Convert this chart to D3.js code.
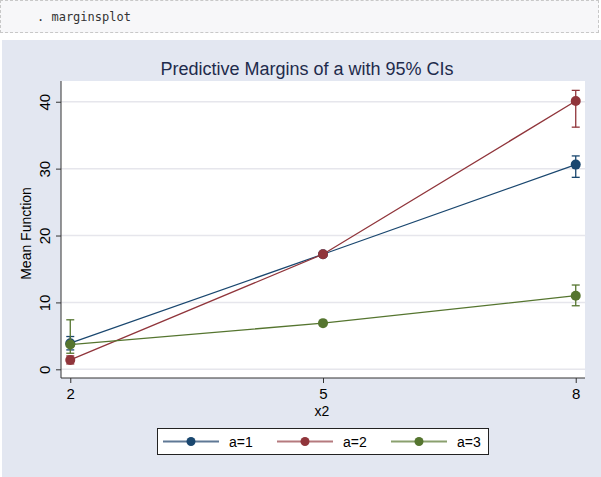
<!DOCTYPE html>
<meta charset="utf-8">
<style>
body { margin: 0; background: #fff; }
.cmd {
  position: absolute; left: 0; top: 0; width: 599px; height: 33px;
  background: #f7f7f9; border: 1px dashed #c8c8c8;
  font: 12px "DejaVu Sans Mono", monospace; color: #333;
  line-height: 33px; box-sizing: border-box; padding-left: 36px;
}
svg { position: absolute; left: 0; top: 40px; }
.tick text { font: 15px "Liberation Sans", Arial, sans-serif; fill: #000; }
</style>
<div class="cmd">. marginsplot</div>
<svg width="601" height="437"></svg>
<script src="https://d3js.org/d3.v7.min.js"></script>
<script>

var xvals = [2, 5, 8];
var groups = ["a=1", "a=2", "a=3"];
var margin1 = [3.9, 17.2, 30.6],
    lo1 = [2.9, 17.0, 28.7],
    hi1 = [4.9, 17.4, 31.9];
var margin2 = [1.4, 17.2, 40.1],
    lo2 = [0.8, 16.9, 36.2],
    hi2 = [2.0, 17.5, 41.7];
var margin3 = [3.7, 6.9, 11.0],
    lo3 = [2.4, 6.7, 9.5],
    hi3 = [7.4, 7.1, 12.6];
var colors = ["#1a476f", "#90353b", "#55752f"];
var legendColors = ["#5f7895", "#b57a7e", "#8aa06e"];
var yticks = [0, 10, 20, 30, 40];

var series = [
  {name: groups[0], m: margin1, lo: lo1, hi: hi1},
  {name: groups[1], m: margin2, lo: lo2, hi: hi2},
  {name: groups[2], m: margin3, lo: lo3, hi: hi3}
];

var svg = d3.select("svg"),
    pLeft = 61, pTop = 41, pRight = 585, pBottom = 338;

svg.append("rect").attr("x", 2).attr("y", 0).attr("width", 599).attr("height", 437)
    .attr("fill", "#e3e7f1");
svg.append("rect").attr("x", pLeft).attr("y", pTop).attr("width", pRight - pLeft).attr("height", pBottom - pTop)
    .attr("fill", "#fff");

var x = d3.scaleLinear().domain([1.89, 8.11]).range([pLeft, pRight]);
var y = d3.scaleLinear().domain([-1.3, 43.1]).range([pBottom, pTop]);

// grid
svg.append("g").selectAll("line").data(yticks).enter().append("line")
    .attr("x1", pLeft).attr("x2", pRight)
    .attr("y1", function(d) { return y(d); }).attr("y2", function(d) { return y(d); })
    .attr("stroke", "#e6e6ec").attr("stroke-width", 1.5);

// axes
var yAxis = svg.append("g").attr("transform", "translate(" + pLeft + ",0)")
    .call(d3.axisLeft(y).tickValues(yticks).tickFormat(d3.format("d")).tickSize(5).tickSizeOuter(0));
yAxis.selectAll("text")
    .attr("transform", "rotate(-90)").attr("x", 0).attr("y", -11)
    .attr("dy", 0).style("text-anchor", "middle");
yAxis.selectAll("path, line").attr("stroke", "#333");
yAxis.select(".domain").attr("d", "M0," + pTop + "V" + pBottom);

var xAxis = svg.append("g").attr("transform", "translate(0," + pBottom + ")")
    .call(d3.axisBottom(x).tickValues(xvals).tickFormat(d3.format("d")).tickSize(5).tickPadding(5).tickSizeOuter(0));
xAxis.selectAll("path, line").attr("stroke", "#333");
xAxis.select(".domain").attr("d", "M" + pLeft + ",0H" + pRight);

svg.append("text").attr("x", 322).attr("y", 376).attr("text-anchor", "middle")
    .style("font", "14px 'Liberation Sans', Arial, sans-serif").text("x2");
svg.append("text").attr("transform", "translate(31," + ((pTop + pBottom) / 2 + 4) + ") rotate(-90)")
    .attr("text-anchor", "middle")
    .style("font", "14px 'Liberation Sans', Arial, sans-serif").text("Mean Function");
svg.append("text").attr("x", 307).attr("y", 35).attr("text-anchor", "middle")
    .attr("fill", "#1e2b4c")
    .style("font", "18px 'Liberation Sans', Arial, sans-serif")
    .text("Predictive Margins of a with 95% CIs");

var line = d3.line().x(function(d, i) { return x(xvals[i]); }).y(function(d) { return y(d); });

series.forEach(function(s, k) {
  var g = svg.append("g");
  g.append("path").attr("d", line(s.m)).attr("fill", "none")
      .attr("stroke", colors[k]).attr("stroke-width", 1.3);
  xvals.forEach(function(xv, i) {
    var cx = x(xv);
    g.append("line").attr("x1", cx).attr("x2", cx).attr("y1", y(s.lo[i])).attr("y2", y(s.hi[i]))
        .attr("stroke", colors[k]).attr("stroke-width", 1.3);
    [s.lo[i], s.hi[i]].forEach(function(v) {
      g.append("line").attr("x1", cx - 4).attr("x2", cx + 4).attr("y1", y(v)).attr("y2", y(v))
          .attr("stroke", colors[k]).attr("stroke-width", 1.3);
    });
  });
  g.selectAll("circle").data(s.m).enter().append("circle")
      .attr("cx", function(d, i) { return x(xvals[i]); })
      .attr("cy", function(d) { return y(d); })
      .attr("r", 5).attr("fill", colors[k]);
});

// legend
var lg = svg.append("g");
lg.append("rect").attr("x", 157.5).attr("y", 388.5).attr("width", 331).attr("height", 26)
    .attr("fill", "#fff").attr("stroke", "#222").attr("stroke-width", 1);
groups.forEach(function(name, k) {
  var x0 = 163 + k * 114;
  lg.append("line").attr("x1", x0).attr("x2", x0 + 56).attr("y1", 401.5).attr("y2", 401.5)
      .attr("stroke", legendColors[k]).attr("stroke-width", 2);
  lg.append("circle").attr("cx", x0 + 28).attr("cy", 401.5).attr("r", 4.5).attr("fill", colors[k]);
  lg.append("text").attr("x", x0 + 66).attr("y", 407).text(name)
      .style("font", "14px 'Liberation Sans', Arial, sans-serif");
});

</script>
